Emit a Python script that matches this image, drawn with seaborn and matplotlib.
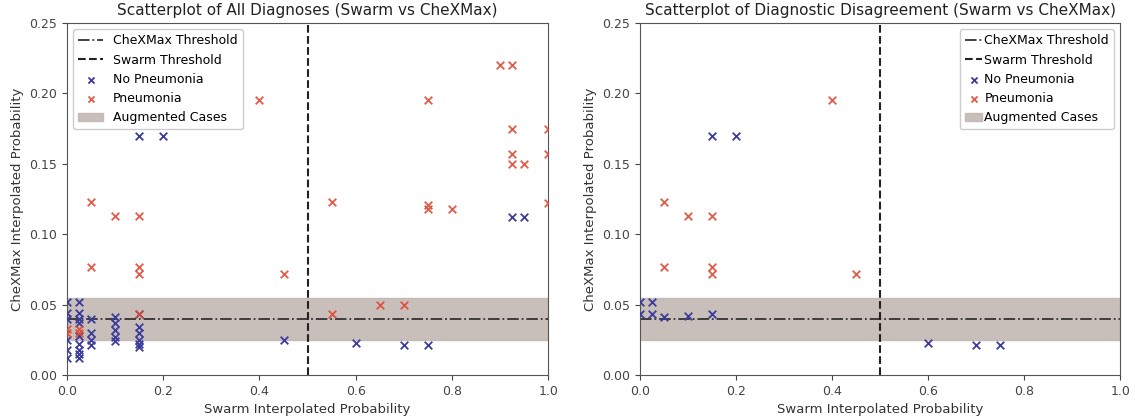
import numpy as np
import pandas as pd
import seaborn as sb
import matplotlib
matplotlib.use("Agg")
import matplotlib.pyplot as plt

# all diagnoses: swarm prob (x) vs chexmax prob (y)
aSwarmNo = [0, 0, 0, 0, 0, 0,
            0.025, 0.025, 0.025, 0.025, 0.025, 0.025, 0.025, 0.025, 0.025,
            0.05, 0.05, 0.05, 0.05,
            0.10, 0.10, 0.10, 0.10, 0.10,
            0.15, 0.15, 0.15, 0.15, 0.15, 0.15,
            0.15, 0.20, 0.45, 0.60, 0.70, 0.75, 0.925, 0.95]
aChexNo = [0.052, 0.044, 0.040, 0.025, 0.018, 0.012,
           0.052, 0.044, 0.040, 0.037, 0.028, 0.022, 0.018, 0.015, 0.012,
           0.040, 0.030, 0.025, 0.021,
           0.041, 0.037, 0.032, 0.027, 0.024,
           0.043, 0.034, 0.030, 0.025, 0.022, 0.020,
           0.170, 0.170, 0.025, 0.023, 0.021, 0.021, 0.112, 0.112]

aSwarmYes = [0, 0, 0.025, 0.025,
             0.05, 0.05, 0.10, 0.15, 0.15, 0.15, 0.15,
             0.40, 0.45, 0.55, 0.55, 0.65, 0.70,
             0.75, 0.75, 0.75, 0.80,
             0.90, 0.925, 0.925, 0.925, 0.925, 0.95,
             1.0, 1.0, 1.0]
aChexYes = [0.033, 0.030, 0.033, 0.030,
            0.123, 0.077, 0.113, 0.113, 0.077, 0.072, 0.043,
            0.195, 0.072, 0.123, 0.043, 0.050, 0.050,
            0.195, 0.121, 0.118, 0.118,
            0.220, 0.220, 0.175, 0.157, 0.150, 0.150,
            0.175, 0.157, 0.122]

# disagreement cases only
aSwarmNoDis = [0, 0.025, 0, 0.025, 0.05, 0.10, 0.15, 0.15, 0.20, 0.60, 0.70, 0.75]
aChexNoDis = [0.052, 0.052, 0.043, 0.043, 0.041, 0.042, 0.043, 0.170, 0.170, 0.023, 0.021, 0.021]
aSwarmYesDis = [0.05, 0.05, 0.10, 0.15, 0.15, 0.15, 0.40, 0.45]
aChexYesDis = [0.123, 0.077, 0.113, 0.113, 0.077, 0.072, 0.195, 0.072]

fChexThreshold = 0.04
fSwarmThreshold = 0.5
aAugmentedBand = [0.025, 0.055]

sBlue = "#3c3c9c"
sRed = "#e04a33"
sBand = "#c2b7b3"

plt.rcParams["font.family"] = ["DejaVu Sans"]
oFig = plt.figure(figsize=(11.35, 4.19), dpi=100)
oAx1 = oFig.add_axes([0.059, 0.105, 0.424, 0.840])
oAx2 = oFig.add_axes([0.564, 0.105, 0.423, 0.840])


def draw_panel(oAx, aXNo, aYNo, aXYes, aYYes, sTitle):
    oAx.axhline(fChexThreshold, color="#333333", linestyle="-.", linewidth=1.3, label="CheXMax Threshold")
    oAx.axvline(fSwarmThreshold, color="#222222", linestyle="--", linewidth=1.5, label="Swarm Threshold")
    pdNo = pd.DataFrame({"x": aXNo, "y": aYNo})
    pdYes = pd.DataFrame({"x": aXYes, "y": aYYes})
    sb.scatterplot(data=pdNo, x="x", y="y", ax=oAx, marker="x", color=sBlue, s=30,
                   linewidth=1.3, label="No Pneumonia", zorder=3)
    sb.scatterplot(data=pdYes, x="x", y="y", ax=oAx, marker="x", color=sRed, s=30,
                   linewidth=1.3, label="Pneumonia", zorder=3, alpha=0.9)
    oAx.axhspan(aAugmentedBand[0], aAugmentedBand[1], color=sBand, alpha=0.9, zorder=0,
                label="Augmented Cases")
    oAx.set_xlim(0, 1.0)
    oAx.set_ylim(0, 0.25)
    oAx.set_xticks(np.arange(0, 1.01, 0.2))
    oAx.set_yticks(np.arange(0, 0.251, 0.05))
    oAx.set_xlabel("Swarm Interpolated Probability", fontsize=9.5, color="#333333")
    oAx.set_ylabel("CheXMax Interpolated Probability", fontsize=9.5, color="#333333")
    oAx.set_title(sTitle, fontsize=11, color="#222222")
    oAx.tick_params(labelsize=9, colors="#444444")
    for oSpine in oAx.spines.values():
        oSpine.set_color("#555555")


draw_panel(oAx1, aSwarmNo, aChexNo, aSwarmYes, aChexYes,
           "Scatterplot of All Diagnoses (Swarm vs CheXMax)")
oAx1.legend(loc="upper left", fontsize=9, framealpha=1, markerscale=0.8)

draw_panel(oAx2, aSwarmNoDis, aChexNoDis, aSwarmYesDis, aChexYesDis,
           "Scatterplot of Diagnostic Disagreement (Swarm vs CheXMax)")
oAx2.legend(loc="upper right", fontsize=9, framealpha=1, markerscale=0.8,
            handlelength=1.4, handletextpad=0.15)

oFig.savefig("out.png", dpi=100)
